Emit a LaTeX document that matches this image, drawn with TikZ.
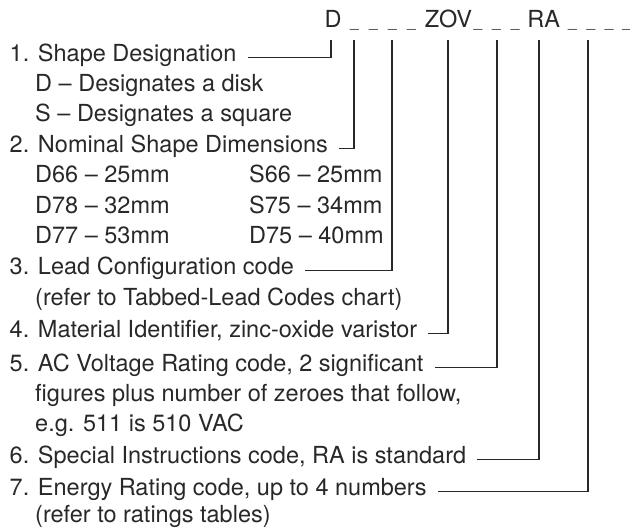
\documentclass[tikz,border=0pt]{standalone}
\usepackage{fontspec}
\setmainfont{TeX Gyre Heros}
\usetikzlibrary{positioning}
\definecolor{tinta}{RGB}{40,40,40}

\newcommand{\blank}{{\fontsize{15.5}{15}\selectfont\_}}

\tikzset{
  item/.style={anchor=base west, inner sep=0pt, text=tinta},
  lead/.style={draw=tinta, line width=1.1pt, shorten <=11pt},
}

\begin{document}
\begin{tikzpicture}[x=1pt,y=-1pt,font=\fontsize{23.5}{28}\selectfont]
\useasboundingbox (0,0) rectangle (630,528);

% Codigo
\node[item] (code) at (324.5,27) {D\hspace{8.5pt}\blank\hspace{10.4pt}\blank\hspace{10.4pt}\blank\hspace{10.4pt}\blank\hspace{9pt}ZOV\hspace{1.5pt}\blank\hspace{10pt}\blank\hspace{10pt}\blank\hspace{8pt}RA\hspace{8pt}\blank\hspace{10pt}\blank\hspace{9.5pt}\blank\hspace{9pt}\blank};

% Itens
\node[item] (l1)  at (9.5,61)    {1. Shape Designation};
\node[item] (l1a) at (35,91)     {D -- Designates a disk};
\node[item] (l1b) at (35,121)    {S -- Designates a square};
\node[item] (l2)  at (9.5,152)   {2. Nominal Shape Dimensions};
\node[item] (l2a) at (35,182.5)  {D66 -- 25mm};
\node[item] (l2b) at (35,213)    {D78 -- 32mm};
\node[item] (l2c) at (35,243.5)  {D77 -- 53mm};
\node[item] (l2d) at (249,182.5) {S66 -- 25mm};
\node[item] (l2e) at (249,213)   {S75 -- 34mm};
\node[item] (l2f) at (249,243.5) {D75 -- 40mm};
\node[item] (l3)  at (9.5,274)   {3. Lead Configuration code};
\node[item] (l3a) at (35,305)    {(refer to Tabbed-Lead Codes chart)};
\node[item] (l4)  at (9.5,337)   {4. Material Identifier, zinc-oxide varistor};
\node[item] (l5)  at (9.5,371)   {5. AC Voltage Rating code, 2 significant};
\node[item] (l5a) at (35,401)    {figures plus number of zeroes that follow,};
\node[item] (l5b) at (35,431)    {e.g. 511 is 510 VAC};
\node[item] (l6)  at (9.5,463)   {6. Special Instructions code, RA is standard};
\node[item] (l7)  at (9.5,495)   {7. Energy Rating code, up to 4 numbers};
\node[item] (l7a) at (35,522)    {(refer to ratings tables)};

% Pontos sob o codigo
\coordinate (p1) at (331,40);
\coordinate (p2) at (354,40);
\coordinate (p3) at (392,40);
\coordinate (p4) at (448,40);
\coordinate (p5) at (497,40);
\coordinate (p6) at (539,40);
\coordinate (p7) at (588,40);

% Ligacoes
\draw[lead] ([yshift=1pt]l1.mid east) -| (p1);
\draw[lead] ([yshift=1pt]l2.mid east) -| (p2);
\draw[lead] ([yshift=1pt]l3.mid east) -| (p3);
\draw[lead] ([yshift=1pt]l4.mid east) -| (p4);
\draw[lead] ([yshift=1pt]l5.mid east) -| (p5);
\draw[lead] ([yshift=1pt]l6.mid east) -| (p6);
\draw[lead] ([yshift=1pt]l7.mid east) -| (p7);

\end{tikzpicture}
\end{document}
